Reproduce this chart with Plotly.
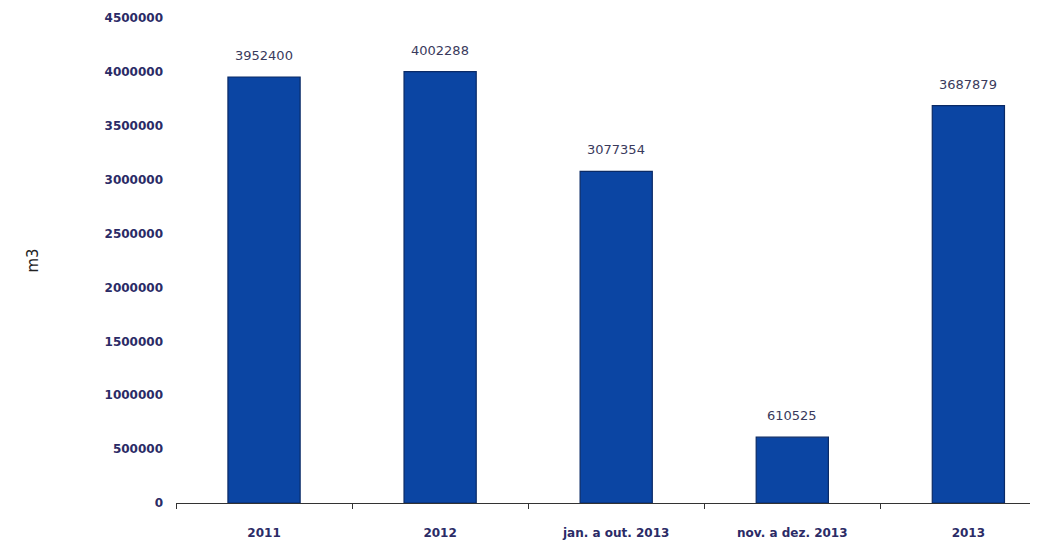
import plotly.graph_objects as go

# Volumes per period (m3)
categories = ["2011", "2012", "jan. a out. 2013", "nov. a dez. 2013", "2013"]
volumes = [3952400, 4002288, 3077354, 610525, 3687879]
y_ticks = [0, 500000, 1000000, 1500000, 2000000, 2500000, 3000000, 3500000, 4000000, 4500000]

bar_color = "#0b45a3"
edge_color = "#0a2a66"
label_color = "#3a3a5c"
tick_color = "#2b2b66"
font_family = "DejaVu Sans, Open Sans, sans-serif"

fig = go.Figure()
fig.add_trace(go.Bar(
    x=list(range(len(categories))),
    y=volumes,
    width=0.41,
    marker=dict(color=bar_color, line=dict(color=edge_color, width=1.2)),
    customdata=categories,
    hovertemplate="%{customdata}: %{y}<extra></extra>",
))

# Value labels above each bar
for i, val in enumerate(volumes):
    fig.add_annotation(
        x=i, y=val, text=str(val), showarrow=False,
        yanchor="bottom", yshift=12,
        font=dict(family=font_family, size=13, color=label_color),
    )

fig.update_layout(
    width=1046, height=547,
    margin=dict(l=176, r=16, t=18, b=44),
    paper_bgcolor="white", plot_bgcolor="white",
    showlegend=False,
)
fig.update_xaxes(
    range=[-0.5, 4.35],
    automargin=False,
    tickmode="array",
    tickvals=list(range(len(categories))), ticktext=categories,
    showline=True, linecolor="#333333", linewidth=1.2,
    ticks="", showgrid=False, zeroline=False,
    ticklabelstandoff=18,
    tickfont=dict(family=font_family, size=12, color=tick_color, weight=600),
    minor=dict(tickmode="array", tickvals=[-0.5, 0.5, 1.5, 2.5, 3.5],
               ticks="outside", ticklen=5, tickcolor="#333333", showgrid=False),
)
fig.update_yaxes(
    range=[0, 4500000],
    automargin=False,
    tickvals=y_ticks, ticktext=[str(v) for v in y_ticks],
    showline=False, showgrid=False, zeroline=False,
    ticks="", ticklabelstandoff=12,
    tickfont=dict(family=font_family, size=12, color=tick_color, weight=600),
    title=dict(text="m3", standoff=62,
               font=dict(family=font_family, size=15, color="#222222")),
)

fig.write_html("out.html")
